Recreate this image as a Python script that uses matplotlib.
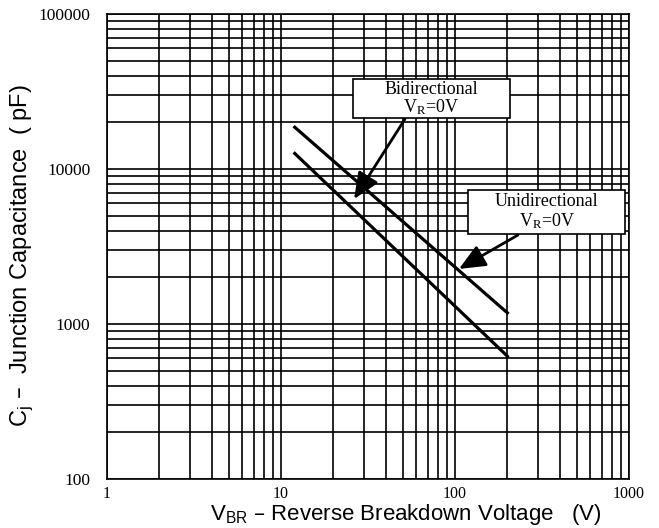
import matplotlib
matplotlib.use("Agg")
import matplotlib.pyplot as plt
from matplotlib.patches import Rectangle
from matplotlib.ticker import FixedLocator, LogLocator, NullFormatter

plt.rcParams["mathtext.default"] = "regular"

# data
voltage = [12, 200]
cap_upper = [18600, 1180]
cap_lower = [12600, 620]

x_ticks = [1, 10, 100, 1000]
x_tick_labels = ["1", "10", "100", "1000"]
y_ticks = [100, 1000, 10000, 100000]
y_tick_labels = ["100", "1000", "10000", "100000"]

SERIF = ["Liberation Serif", "DejaVu Serif"]
SANS = ["Liberation Sans", "DejaVu Sans"]

fig = plt.figure(figsize=(6.59, 5.28), dpi=100)
ax = fig.add_axes([107 / 659, 49 / 528, 522 / 659, 465 / 528])
ax.set_xscale("log")
ax.set_yscale("log")
ax.set_xlim(1, 1000)
ax.set_ylim(100, 100000)

ax.xaxis.set_major_locator(FixedLocator(x_ticks))
ax.yaxis.set_major_locator(FixedLocator(y_ticks))
ax.xaxis.set_minor_locator(LogLocator(base=10, subs=range(2, 10), numticks=20))
ax.yaxis.set_minor_locator(LogLocator(base=10, subs=range(2, 10), numticks=20))
ax.xaxis.set_minor_formatter(NullFormatter())
ax.yaxis.set_minor_formatter(NullFormatter())
ax.set_xticklabels(x_tick_labels, family=SERIF, fontsize=11.5)
ax.set_yticklabels(y_tick_labels, family=SERIF, fontsize=12.5)
ax.tick_params(axis="both", which="both", length=0)
ax.tick_params(axis="x", pad=5)
ax.tick_params(axis="y", pad=12)

ax.grid(True, which="both", color="black", linewidth=1.2)
for sp in ax.spines.values():
    sp.set_linewidth(1.2)

ax.plot(voltage, cap_upper, color="black", linewidth=2.3, zorder=4)
ax.plot(voltage, cap_lower, color="black", linewidth=2.3, zorder=4)

# annotation boxes
ax.add_patch(Rectangle((0.4713, 0.7763), 0.3008, 0.0839, transform=ax.transAxes,
                       facecolor="white", edgecolor="black", linewidth=1.2, zorder=5))
ax.text(0.6216, 0.818, "Bidirectional\n$V_R$=0V", transform=ax.transAxes,
        ha="center", va="center", family=SERIF, fontsize=13, linespacing=0.95, zorder=6)
ax.add_patch(Rectangle((0.6916, 0.5269), 0.3008, 0.0946, transform=ax.transAxes,
                       facecolor="white", edgecolor="black", linewidth=1.2, zorder=5))
ax.text(0.842, 0.574, "Unidirectional\n$V_R$=0V", transform=ax.transAxes,
        ha="center", va="center", family=SERIF, fontsize=13, linespacing=1.05, zorder=6)

arrow = dict(arrowstyle="-|>,head_length=0.8,head_width=0.35", color="black",
             linewidth=2, mutation_scale=20, shrinkA=0, shrinkB=0)
ax.annotate("", xy=(26.3, 6400), xytext=(51.6, 21000), arrowprops=arrow, zorder=6)
ax.annotate("", xy=(105.4, 2265), xytext=(230, 3750), arrowprops=arrow, zorder=6)

fig.text(210 / 659, 1 - 520 / 528, "$V_{BR}$ – Reverse Breakdown Voltage   (V)",
         ha="left", va="baseline", family=SANS, fontsize=16)
fig.text(22 / 659, 1 - 256 / 528, "$C_j$ –  Junction Capacitance  ( pF)",
         ha="center", va="center", rotation=90, family=SANS, fontsize=17)

fig.savefig("out.png", dpi=100)
